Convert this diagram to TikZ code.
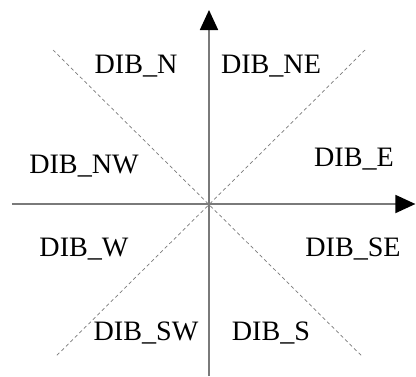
\documentclass[tikz,border=0pt]{standalone}
\usepackage{fontspec}
\setmainfont{Liberation Serif}
\usetikzlibrary{arrows.meta}
\definecolor{axisgray}{HTML}{7A7A7A}

\begin{document}
\begin{tikzpicture}[
    axisline/.style={axisgray,line width=1.3pt,-{Triangle[length=0.5cm,width=0.45cm,black]}},
    sectorline/.style={axisgray,line width=0.5pt,dash pattern=on 2.5pt off 2pt},
    dirlabel/.style={anchor=base,inner sep=0pt,font=\rmfamily\fontsize{20}{24}\selectfont}
  ]
  \useasboundingbox (-5.225,-4.3) rectangle (5.175,5.1);
  \coordinate (o) at (0,0);
  % axes
  \coordinate (xl) at (-4.925,0);
  \coordinate (xr) at (5.16,0);
  \coordinate (yb) at (0,-4.3);
  \coordinate (yt) at (0,4.85);
  % sector borders
  \coordinate (nw) at (-3.9,3.85);
  \coordinate (ne) at (3.9,3.85);
  \coordinate (sw) at (-3.85,-3.83);
  \coordinate (se) at (3.85,-3.83);
  \draw[sectorline] (nw) -- (se);
  \draw[sectorline] (ne) -- (sw);
  \draw[axisline] (xl) -- (xr);
  \draw[axisline] (yb) -- (yt);
  % direction labels
  \foreach \x/\y/\d in {-1.825/3.475/N, 1.55/3.475/NE, -3.125/0.975/NW, 3.625/1.15/E,
                        -3.125/-1.1/W, 3.6/-1.1/SE, -1.575/-3.2/SW, 1.55/-3.2/S} {
    \node[dirlabel] (lbl\d) at (\x,\y-0.22) {DIB\_\d};
  }
\end{tikzpicture}
\end{document}
